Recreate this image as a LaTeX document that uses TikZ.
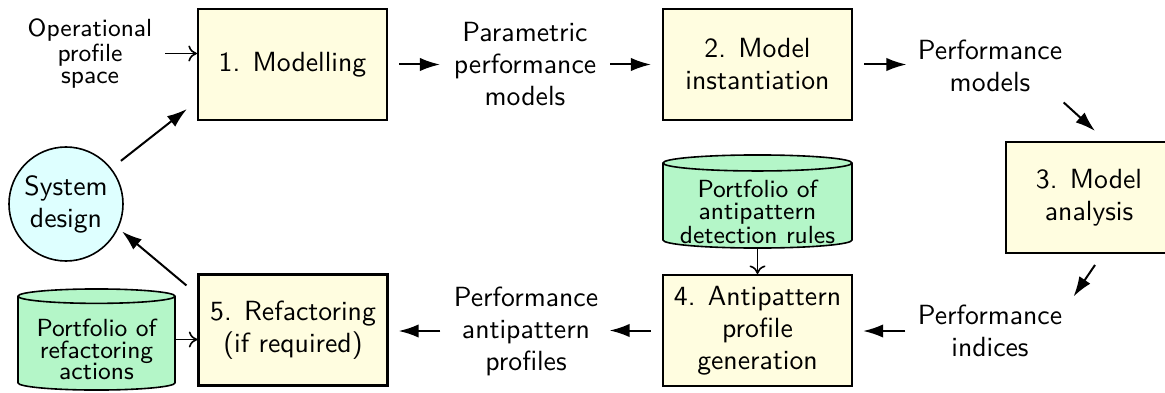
\documentclass[tikz,border=0pt]{standalone}
\usetikzlibrary{arrows.meta}
\definecolor{boxfill}{RGB}{255,253,224}
\definecolor{circfill}{RGB}{222,255,255}
\definecolor{cylfill}{RGB}{180,246,200}
\newcommand\mycyl[3]{%
  \draw[line width=0.6pt, fill=cylfill] ([yshift=-#3]#1.north west) -- ([yshift=#3]#1.south west)
    arc[start angle=180,end angle=360,x radius=#2,y radius=#3]
    -- ([yshift=-#3]#1.north east)
    arc[start angle=0,end angle=180,x radius=#2,y radius=#3] -- cycle;
  \draw[line width=0.6pt] ([yshift=-#3]#1.north west) arc[start angle=180,end angle=360,x radius=#2,y radius=#3];
}
\begin{document}
\begin{tikzpicture}[x=0.375pt,y=-0.375pt,
  font=\sffamily\fontsize{10.4}{12}\selectfont,
  box/.style={draw, line width=0.8pt, fill=boxfill, minimum width=70.9pt, minimum height=41.6pt, align=center, inner sep=0pt},
  lbl/.style={align=center, inner sep=0pt},
  smalltxt/.style={font=\sffamily\fontsize{9.3}{8.2}\selectfont},
  cylbody/.style={inner sep=0pt, outer sep=0pt},
  flow/.style={-{Latex[length=7.5pt,width=5pt]}, line width=0.75pt},
  feed/.style={-{To[length=3.2pt,width=6pt]}, line width=0.6pt},
]
\useasboundingbox (0,0) rectangle (1165,392);
% process boxes
\node[box] (m1) at (292.5,64.5) {1. Modelling};
\node[box] (m2) at (757.5,64.5) {2. Model\\instantiation};
\node[box, minimum width=62.3pt] (m3) at (1089,197.5) {3. Model\\analysis};
\node[box] (m4) at (757.5,330.5) {4. Antipattern\\profile\\generation};
\node[box] (m5) at (293,330) {5. Refactoring\\(if required)};
\node[draw, circle, fill=circfill, line width=0.6pt, minimum size=42.75pt, inner sep=0pt, align=center] (sys) at (66,204) {System\\design};
% labels
\node[lbl, smalltxt] (op) at (90,53.5) {Operational\\profile\\space};
\node[lbl] (ppm) at (525,64.5) {Parametric\\performance\\models};
\node[lbl] (pm) at (990,66) {Performance\\models};
\node[lbl] (pi) at (990,331) {Performance\\indices};
\node[lbl] (pap) at (526,331) {Performance\\antipattern\\profiles};
% cylinders
\node[cylbody, minimum width=70.9pt, minimum height=34.9pt] (db1) at (757.5,201.5) {};
\mycyl{db1}{35.45pt}{3pt}
\node[lbl, smalltxt] (db1t) at (757.5,212) {Portfolio of\\antipattern\\detection rules};
\node[cylbody, minimum width=58.9pt, minimum height=37.9pt] (db2) at (96.5,339.5) {};
\mycyl{db2}{29.45pt}{2.7pt}
\node[lbl, smalltxt] (db2t) at (96.5,349.5) {Portfolio of\\refactoring\\actions};
% connectors
\draw[feed, shorten <=4.7pt] (op.east) -- (op.east -| m1.west);
\draw[flow, shorten <=4.1pt, shorten >=5pt] (m1.east) -- (ppm.west);
\draw[flow, shorten <=5pt, shorten >=4.1pt] (ppm.east) -- (m2.west);
\draw[flow, shorten <=4.1pt, shorten >=4.1pt] (m2.east) -- (m2.east -| pm.west);
\draw[flow] ([xshift=0.4pt,yshift=-3.75pt]pm.south east) -- ([xshift=2.25pt,yshift=3.75pt]m3.north);
\draw[flow] ([xshift=2.25pt,yshift=-4.1pt]m3.south) -- ([xshift=4.1pt,yshift=3pt]pi.north east);
\draw[flow, shorten <=4.5pt, shorten >=3.75pt] (pi.west) -- (pi.west -| m4.east);
\draw[flow, shorten <=4.1pt, shorten >=4.1pt] (m4.west) -- (m4.west -| pap.east);
\draw[flow, shorten <=4.9pt, shorten >=3.75pt] (pap.west) -- (pap.west -| m5.east);
\draw[feed] (db1.south) -- (m4.north);
\draw[feed] (db2.east) -- (db2.east -| m5.west);
\draw[flow, shorten <=4.5pt] (sys) -- ([xshift=-3.75pt,yshift=4.5pt]m1.south west);
\draw[flow, shorten >=1.8pt] ([xshift=-4.1pt,yshift=-4.5pt]m5.north west) -- (sys.-25);
\end{tikzpicture}
\end{document}
